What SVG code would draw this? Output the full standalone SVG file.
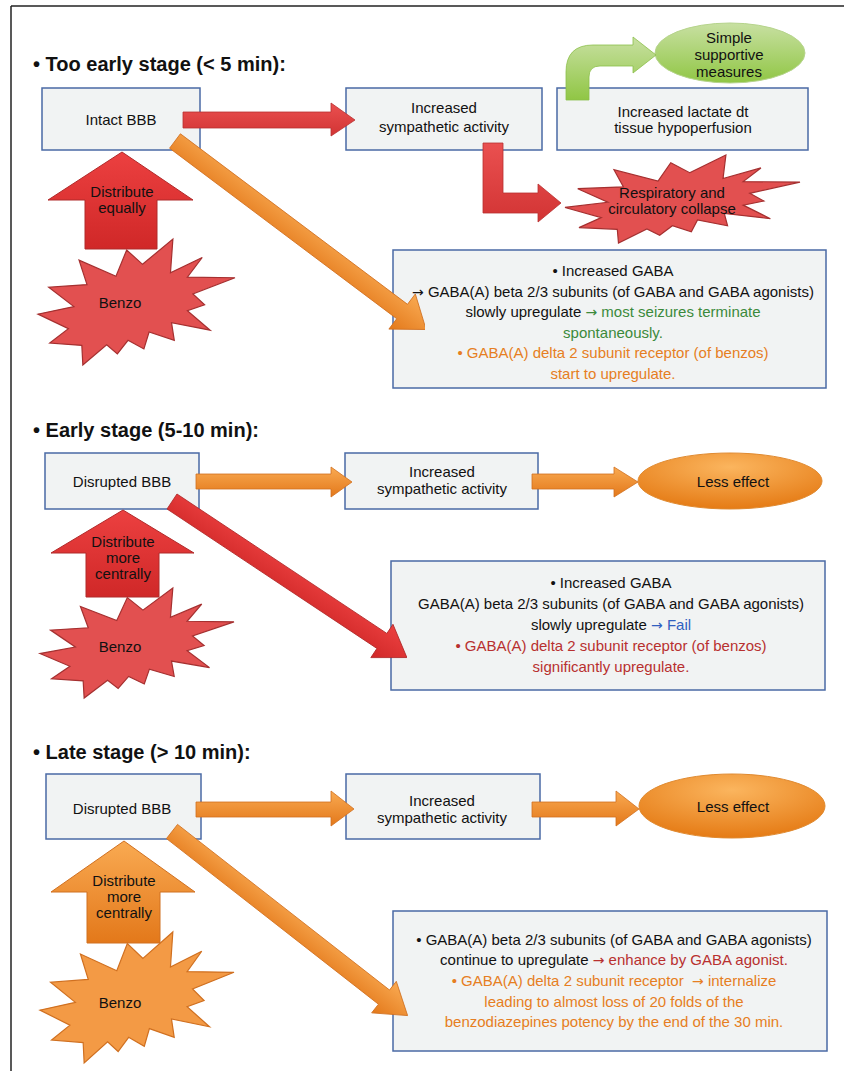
<svg xmlns="http://www.w3.org/2000/svg" width="844" height="1071" viewBox="0 0 844 1071">
<defs>
<style>
.t{font-family:"Liberation Sans",Arial,sans-serif;font-size:15px;fill:#111;text-anchor:middle}
.title{font-family:"Liberation Sans",Arial,sans-serif;font-size:20px;font-weight:bold;fill:#111}
.ar{font-family:"DejaVu Sans",sans-serif;font-size:14px}
.box{fill:#f1f3f3;stroke:#4a6aa5;stroke-width:1.5}
.seal{vector-effect:non-scaling-stroke;stroke-width:1.2}
.green{fill:#3b8a3b}
.org{fill:#e67e22}
.red{fill:#b8302f}
.blue{fill:#3060c0}
</style>
<linearGradient id="gRed" x1="0" y1="0" x2="0" y2="1"><stop offset="0" stop-color="#ec4040"/><stop offset="1" stop-color="#d02828"/></linearGradient>
<linearGradient id="gRedH" x1="0" y1="0" x2="0" y2="1"><stop offset="0" stop-color="#ea5050"/><stop offset="1" stop-color="#d23434"/></linearGradient>
<linearGradient id="gOrg" x1="0" y1="0" x2="0" y2="1"><stop offset="0" stop-color="#f9aa52"/><stop offset="1" stop-color="#e3781a"/></linearGradient>
<linearGradient id="gGreen" x1="0" y1="0" x2="0" y2="1"><stop offset="0" stop-color="#c8e0a2"/><stop offset="1" stop-color="#90c644"/></linearGradient>
<radialGradient id="gEll" cx="0.5" cy="0.25" r="0.75"><stop offset="0" stop-color="#fbb55e"/><stop offset="1" stop-color="#e57b15"/></radialGradient>
<path id="seal" class="seal" d="M53.06,20.10 L68.47,0 L67.25,26.75 L83.37,14.69 L75.83,30.24 L100,30.76 L78.63,43.53 L84.58,52.27 L75.83,56.99 L87.39,72.37 L67.78,66.44 L69.18,80.42 L56.39,73.77 L53.76,87.23 L45.70,80.42 L40.28,91.26 L34.85,83.91 L22.76,100 L22.25,84.44 L5.95,82.52 L15.42,71.16 L0,59.62 L18.22,53.67 L5.43,38.29 L24.87,36.19 L20.84,16.78 L39.58,29.55 L45.01,8.74 Z"/>
<clipPath id="c1" clipPathUnits="userSpaceOnUse"><rect x="0" y="0" width="425" height="1071"/></clipPath>
<clipPath id="c2" clipPathUnits="userSpaceOnUse"><rect x="0" y="0" width="407" height="1071"/></clipPath>
<clipPath id="c3" clipPathUnits="userSpaceOnUse"><rect x="0" y="0" width="408" height="1071"/></clipPath>
</defs>
<rect x="0" y="0" width="844" height="1071" fill="#fff"/>
<g id="frame" stroke="#222" stroke-width="1.5" fill="none">
<line x1="11" y1="6" x2="844" y2="6"/>
<line x1="11" y1="6" x2="11" y2="1071"/>
</g>

<!-- Stage 1 -->
<text class="title" x="33" y="71">• Too early stage (&lt; 5 min):</text>
<g id="s1-intact"><rect class="box" x="42" y="88" width="158" height="62"/><text class="t" x="121" y="125">Intact BBB</text></g>
<g id="s1-symp"><rect class="box" x="346" y="88" width="196" height="62"/><text class="t" x="444" y="113">Increased</text><text class="t" x="444" y="132">sympathetic activity</text></g>
<g id="s1-lactate"><rect class="box" x="557" y="88" width="251" height="62"/><text class="t" x="683" y="117">Increased lactate dt</text><text class="t" x="683" y="133">tissue hypoperfusion</text></g>
<g id="s1-supportive"><ellipse cx="730" cy="53" rx="75" ry="30" fill="url(#gGreen)" stroke="#b6d48c" stroke-width="1"/><text class="t" x="729" y="43">Simple</text><text class="t" x="729" y="60">supportive</text><text class="t" x="729" y="77">measures</text></g>
<g id="s1-distribute"><path d="M122,152 L193,200 L157,200 L157,249 L85,249 L85,200 L48,200 Z" fill="url(#gRed)" stroke="#b02a2a" stroke-width="1"/><text class="t" x="122" y="197">Distribute</text><text class="t" x="122" y="213">equally</text></g>
<g id="s1-benzo"><use href="#seal" transform="translate(38,239) scale(1.97,1.26)" fill="#e25050" stroke="#a53030"/><text class="t" x="120" y="308">Benzo</text></g>
<g id="s1-collapse"><use href="#seal" transform="translate(565,155) scale(2.35,0.88)" fill="#e25050" stroke="#a53030"/><text class="t" x="672" y="198">Respiratory and</text><text class="t" x="672" y="214">circulatory collapse</text></g>
<g id="s1-gaba"><rect class="box" x="393" y="250" width="433" height="138"/>
<text class="t" x="613" y="276">• Increased GABA</text>
<text class="t" x="613" y="297"><tspan class="ar">→</tspan> GABA(A) beta 2/3 subunits (of GABA and GABA agonists)</text>
<text class="t" x="613" y="317">slowly upregulate <tspan class="green"><tspan class="ar">→</tspan> most seizures terminate</tspan></text>
<text class="t green" x="613" y="338">spontaneously.</text>
<text class="t org" x="613" y="358">• GABA(A) delta 2 subunit receptor (of benzos)</text>
<text class="t org" x="613" y="379">start to upregulate.</text>
</g>

<!-- Stage 2 -->
<text class="title" x="33" y="437">• Early stage (5-10 min):</text>
<g id="s2-disrupted"><rect class="box" x="45" y="453" width="154" height="56"/><text class="t" x="122" y="487">Disrupted BBB</text></g>
<g id="s2-symp"><rect class="box" x="345" y="453" width="193" height="56"/><text class="t" x="442" y="477">Increased</text><text class="t" x="442" y="494">sympathetic activity</text></g>
<g id="s2-less"><ellipse cx="730" cy="481" rx="92" ry="28" fill="url(#gEll)" stroke="#e08a30" stroke-width="1"/><text class="t" x="733" y="487">Less effect</text></g>
<g id="s2-distribute"><path d="M123,510 L194,553 L159,553 L159,597 L86,597 L86,553 L51,553 Z" fill="url(#gRed)" stroke="#b02a2a" stroke-width="1"/><text class="t" x="123" y="547">Distribute</text><text class="t" x="123" y="563">more</text><text class="t" x="123" y="579">centrally</text></g>
<g id="s2-benzo"><use href="#seal" transform="translate(40,588) scale(1.94,1.10)" fill="#e25050" stroke="#a53030"/><text class="t" x="120" y="652">Benzo</text></g>
<g id="s2-gaba"><rect class="box" x="391" y="561" width="434" height="129"/>
<text class="t" x="611" y="588">• Increased GABA</text>
<text class="t" x="611" y="609">GABA(A) beta 2/3 subunits (of GABA and GABA agonists)</text>
<text class="t" x="611" y="630">slowly upregulate <tspan class="blue"><tspan class="ar">→</tspan> Fail</tspan></text>
<text class="t red" x="611" y="651">• GABA(A) delta 2 subunit receptor (of benzos)</text>
<text class="t red" x="611" y="672">significantly upregulate.</text>
</g>

<!-- Stage 3 -->
<text class="title" x="33" y="759">• Late stage (&gt; 10 min):</text>
<g id="s3-disrupted"><rect class="box" x="46" y="774" width="155" height="65"/><text class="t" x="122" y="814">Disrupted BBB</text></g>
<g id="s3-symp"><rect class="box" x="346" y="774" width="194" height="65"/><text class="t" x="442" y="806">Increased</text><text class="t" x="442" y="823">sympathetic activity</text></g>
<g id="s3-less"><ellipse cx="732" cy="806" rx="93" ry="32" fill="url(#gEll)" stroke="#e08a30" stroke-width="1"/><text class="t" x="733" y="812">Less effect</text></g>
<g id="s3-distribute"><path d="M124,841 L195,892 L160,892 L160,943 L87,943 L87,892 L51,892 Z" fill="url(#gOrg)" stroke="#d07020" stroke-width="1"/><text class="t" x="124" y="886">Distribute</text><text class="t" x="124" y="902">more</text><text class="t" x="124" y="918">centrally</text></g>
<g id="s3-benzo"><use href="#seal" transform="translate(40,932) scale(1.94,1.31)" fill="#f39a45" stroke="#d07020"/><text class="t" x="120" y="1008">Benzo</text></g>
<g id="s3-gaba"><rect class="box" x="393" y="911" width="434" height="140"/>
<text class="t" x="614" y="945">• GABA(A) beta 2/3 subunits (of GABA and GABA agonists)</text>
<text class="t" x="614" y="965">continue to upregulate <tspan class="red"><tspan class="ar">→</tspan> enhance by GABA agonist.</tspan></text>
<text class="t org" x="614" y="986" xml:space="preserve">• GABA(A) delta 2 subunit receptor  <tspan class="ar">→</tspan> internalize</text>
<text class="t org" x="614" y="1007">leading to almost loss of 20 folds of the</text>
<text class="t org" x="614" y="1027">benzodiazepines potency by the end of the 30 min.</text>
</g>

<g id="connectors">
<!-- stage 1 -->
<path d="M566,100 L566,72 Q566,45 593,45 L633,45 L633,37 L656,55 L633,73 L633,66 L600,66 Q589,66 589,77 L589,100 Z" fill="url(#gGreen)" stroke="#8cbf4a" stroke-width="0.8"/>
<path d="M183,112 L331,112 L331,103 L355,120 L331,136 L331,128 L183,128 Z" fill="url(#gRedH)" stroke="#b83030" stroke-width="0.8"/>
<path d="M483,143 L503,143 L503,193 L538,193 L538,184 L561,203 L538,222 L538,213 L483,213 Z" fill="url(#gRedH)" stroke="#b83030" stroke-width="0.8"/>
<g clip-path="url(#c1)"><polygon transform="translate(175,141) rotate(36.9)" points="0,-9 284,-9 284,-22 314,0 284,22 284,9 0,9" fill="url(#gOrg)" stroke="#d07020" stroke-width="0.8"/></g>
<!-- stage 2 -->
<path d="M196,474 L331,474 L331,467 L352,482 L331,497 L331,489 L196,489 Z" fill="url(#gOrg)" stroke="#d07020" stroke-width="0.8"/>
<path d="M532,474 L614,474 L614,467 L638,482 L614,497 L614,489 L532,489 Z" fill="url(#gOrg)" stroke="#d07020" stroke-width="0.8"/>
<g clip-path="url(#c2)"><polygon transform="translate(172,501.5) rotate(33.6)" points="0,-9 252,-9 252,-20 282,0 252,20 252,9 0,9" fill="url(#gRed)" stroke="#b02a2a" stroke-width="0.8"/></g>
<!-- stage 3 -->
<path d="M196,802 L331,802 L331,791 L354,809 L331,826 L331,817 L196,817 Z" fill="url(#gOrg)" stroke="#d07020" stroke-width="0.8"/>
<path d="M532,802 L616,802 L616,791 L639,809 L616,826 L616,817 L532,817 Z" fill="url(#gOrg)" stroke="#d07020" stroke-width="0.8"/>
<g clip-path="url(#c3)"><polygon transform="translate(172,831.5) rotate(38)" points="0,-9 269,-9 269,-20 299,0 269,20 269,9 0,9" fill="url(#gOrg)" stroke="#d07020" stroke-width="0.8"/></g>
</g>
</svg>
